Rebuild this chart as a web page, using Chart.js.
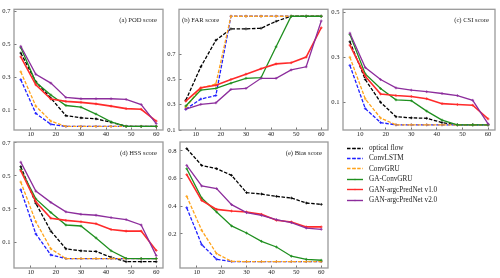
<!DOCTYPE html>
<html>
<head>
<meta charset="utf-8">
<script src="https://cdn.jsdelivr.net/npm/chart.js@4"></script>
<style>
  body { margin: 0; background: #fff; }
  #wrap { position: relative; width: 500px; height: 278px; overflow: hidden; }
  #wrap canvas { position: absolute; left: 0; top: 0; }
  #legend { position: absolute; left: 347px; top: 143px; font-family: 'Liberation Serif', 'Times New Roman', serif; font-size: 7.2px; color: #222; }
  .row { position: relative; height: 10.4px; line-height: 10.4px; white-space: nowrap; }
  .row svg { position: absolute; left: 0; top: 3.7px; }
  .row span { position: absolute; left: 22px; top: 0; }
</style>
</head>
<body>
<div id="wrap">
  <canvas id="podChart" width="500" height="278"></canvas>
  <canvas id="farChart" width="500" height="278"></canvas>
  <canvas id="csiChart" width="500" height="278"></canvas>
  <canvas id="hssChart" width="500" height="278"></canvas>
  <canvas id="biasChart" width="500" height="278"></canvas>
  <div id="legend"></div>
</div>
<script>
// =================== data ===================
const leadTimes = [6, 12, 18, 24, 30, 36, 42, 48, 54, 60];
const xTicks = [10, 20, 30, 40, 50, 60];
const seriesNames = ['optical flow', 'ConvLSTM', 'ConvGRU', 'GA-ConvGRU', 'GAN-argcPredNet v1.0', 'GAN-argcPredNet v2.0'];
const seriesColors = ['#000000', '#1f1fff', '#ffa31a', '#1f8f1f', '#ff2a2a', '#8c2d9c'];
const seriesDashed = [true, true, true, false, false, false];

// rows follow seriesNames order
const podScores = [
    [0.446, 0.272, 0.172, 0.065, 0.052, 0.046, 0.025, 0.001, 0, 0],
    [0.284, 0.079, 0.013, 0, 0, 0, 0, 0, 0, 0],
    [0.332, 0.123, 0.032, 0, 0, 0, 0, 0, 0, 0],
    [0.479, 0.268, 0.191, 0.127, 0.117, 0.075, 0.027, 0, 0, 0],
    [0.423, 0.253, 0.166, 0.152, 0.146, 0.137, 0.123, 0.108, 0.104, 0.032],
    [0.487, 0.317, 0.263, 0.176, 0.168, 0.168, 0.168, 0.164, 0.133, 0.017]
];
const farScores = [
    [0.335, 0.60, 0.81, 0.90, 0.90, 0.905, 0.96, 1, 1, 1],
    [0.265, 0.345, 0.373, 1, 1, 1, 1, 1, 1, 1],
    [0.28, 0.43, 0.465, 1, 1, 1, 1, 1, 1, 1],
    [0.29, 0.416, 0.429, 0.47, 0.509, 0.514, 0.758, 1, 1, 1],
    [0.328, 0.434, 0.454, 0.50, 0.542, 0.585, 0.623, 0.632, 0.677, 0.909],
    [0.265, 0.303, 0.315, 0.421, 0.429, 0.509, 0.509, 0.575, 0.60, 0.963]
];
const csiScores = [
    [0.369, 0.201, 0.10, 0.036, 0.031, 0.029, 0.01, 0, 0, 0],
    [0.264, 0.072, 0.01, 0, 0, 0, 0, 0, 0, 0],
    [0.30, 0.115, 0.03, 0, 0, 0, 0, 0, 0, 0],
    [0.401, 0.226, 0.161, 0.111, 0.107, 0.061, 0.021, 0, 0, 0],
    [0.354, 0.216, 0.137, 0.13, 0.126, 0.116, 0.094, 0.09, 0.087, 0.026],
    [0.407, 0.254, 0.201, 0.164, 0.154, 0.147, 0.139, 0.13, 0.109, 0.004]
];
const hssScores = [
    [0.556, 0.334, 0.166, 0.059, 0.047, 0.043, 0.008, -0.019, -0.019, -0.019],
    [0.416, 0.149, 0.022, 0, 0, 0, 0, 0, 0, 0],
    [0.463, 0.223, 0.059, 0, 0, 0, 0, 0, 0, 0],
    [0.539, 0.361, 0.279, 0.203, 0.197, 0.125, 0.047, 0.001, 0, 0],
    [0.531, 0.344, 0.244, 0.231, 0.223, 0.211, 0.176, 0.166, 0.166, 0.049],
    [0.583, 0.408, 0.34, 0.283, 0.268, 0.262, 0.248, 0.236, 0.203, 0.018]
];
const biasScores = [
    [0.817, 0.696, 0.672, 0.624, 0.499, 0.489, 0.472, 0.46, 0.424, 0.414],
    [0.39, 0.123, 0.017, 0, 0, 0, 0, 0, 0, 0],
    [0.472, 0.227, 0.058, 0.002, 0, 0, 0, 0, 0, 0],
    [0.672, 0.46, 0.359, 0.258, 0.207, 0.147, 0.106, 0.039, 0.017, 0.01],
    [0.629, 0.443, 0.378, 0.366, 0.359, 0.342, 0.299, 0.287, 0.251, 0.251],
    [0.696, 0.547, 0.528, 0.412, 0.354, 0.335, 0.304, 0.282, 0.243, 0.234]
];
const oddTicks = [0.1, 0.3, 0.5, 0.7];
const csiTicks = [0.1, 0.3, 0.5];
const biasTicks = [0.2, 0.4, 0.6, 0.8];
// =================== end data ===================

const FONT = "'Liberation Serif', 'Times New Roman', serif";
const Y_W = 12;
const X_H = 8;

// frame + panel title
const panelDecor = {
    id: 'panelDecor',
    afterDraw(chart, args, opts) {
        const a = chart.chartArea;
        const ctx = chart.ctx;
        ctx.save();
        ctx.strokeStyle = '#9a9a9a';
        ctx.lineWidth = 1.3;
        ctx.strokeRect(a.left, a.top, a.right - a.left, a.bottom - a.top);
        ctx.fillStyle = '#222';
        ctx.font = '6.6px ' + FONT;
        ctx.textBaseline = 'middle';
        if (opts.align === 'left') {
            ctx.textAlign = 'left';
            ctx.fillText(opts.text, a.left + 3, a.top + 11);
        } else {
            ctx.textAlign = 'right';
            ctx.fillText(opts.text, a.right - 6, a.top + 11);
        }
        ctx.restore();
    }
};

function makePanel(id, scores, box, yMin, yMax, yTicks, title, align) {
    const ctx = document.getElementById(id);
    const datasets = scores.map((vals, i) => ({
        label: seriesNames[i],
        data: leadTimes.map((x, j) => ({x: x, y: vals[j]})),
        borderColor: seriesColors[i],
        backgroundColor: seriesColors[i],
        borderWidth: i === 4 ? 1.6 : 1.3,
        borderDash: seriesDashed[i] ? [3.5, 1.6] : [],
        pointStyle: 'cross',
        pointRadius: 1.4,
        pointBorderWidth: 0.8,
        pointBorderColor: seriesColors[i],
        tension: 0,
        fill: false,
        order: 6 - i
    }));
    return new Chart(ctx, {
        type: 'line',
        data: { datasets: datasets },
        plugins: [panelDecor],
        options: {
            responsive: false,
            animation: false,
            events: [],
            layout: {
                padding: {
                    left: box.l - Y_W,
                    top: box.t,
                    right: 500 - box.r,
                    bottom: 278 - box.b - X_H
                }
            },
            plugins: {
                legend: { display: false },
                tooltip: { enabled: false },
                panelDecor: { text: title, align: align }
            },
            scales: {
                x: {
                    type: 'linear',
                    min: 3.3,
                    max: 62.7,
                    afterBuildTicks: s => { s.ticks = xTicks.map(v => ({value: v})); },
                    afterFit: s => { s.height = X_H; },
                    border: { display: false },
                    grid: { drawOnChartArea: false, drawTicks: true, tickLength: -2.5, color: '#555', lineWidth: 0.8 },
                    ticks: { font: { family: FONT, size: 6.6, lineHeight: 1 }, color: '#222', padding: 3.5, maxRotation: 0 }
                },
                y: {
                    type: 'linear',
                    min: yMin,
                    max: yMax,
                    afterBuildTicks: s => { s.ticks = yTicks.map(v => ({value: v})); },
                    afterFit: s => { s.width = Y_W; },
                    border: { display: false },
                    grid: { drawOnChartArea: false, drawTicks: true, tickLength: -2.5, color: '#555', lineWidth: 0.8 },
                    ticks: { font: { family: FONT, size: 6.6, lineHeight: 1 }, color: '#222', padding: 6, callback: v => v.toFixed(1) }
                }
            }
        }
    });
}

makePanel('podChart', podScores, {l: 14, t: 4, r: 163, b: 130}, -0.022, 0.712, oddTicks, '(a) POD score', 'right');
makePanel('farChart', farScores, {l: 179, t: 4, r: 328, b: 130}, 0.1, 1.055, oddTicks, '(b) FAR score', 'left');
makePanel('csiChart', csiScores, {l: 343, t: 4, r: 495, b: 130}, -0.023, 0.513, csiTicks, '(c) CSI score', 'right');
makePanel('hssChart', hssScores, {l: 14, t: 142, r: 163, b: 268}, -0.057, 0.705, oddTicks, '(d) HSS score', 'right');
makePanel('biasChart', biasScores, {l: 180, t: 142, r: 328, b: 268}, -0.046, 0.865, biasTicks, '(e) Bias score', 'right');

// legend in the empty sixth cell
const legend = document.getElementById('legend');
seriesNames.forEach((name, i) => {
    const row = document.createElement('div');
    row.className = 'row';
    const dash = seriesDashed[i] ? 'stroke-dasharray="3.5,1.6"' : '';
    row.innerHTML =
        '<svg width="16" height="3"><line x1="0" y1="1.5" x2="16" y2="1.5" stroke="' + seriesColors[i] +
        '" stroke-width="1.4" ' + dash + '/><circle cx="8" cy="1.5" r="0.8" fill="' + seriesColors[i] + '"/></svg>' +
        '<span>' + name + '</span>';
    legend.appendChild(row);
});
</script>
</body>
</html>
